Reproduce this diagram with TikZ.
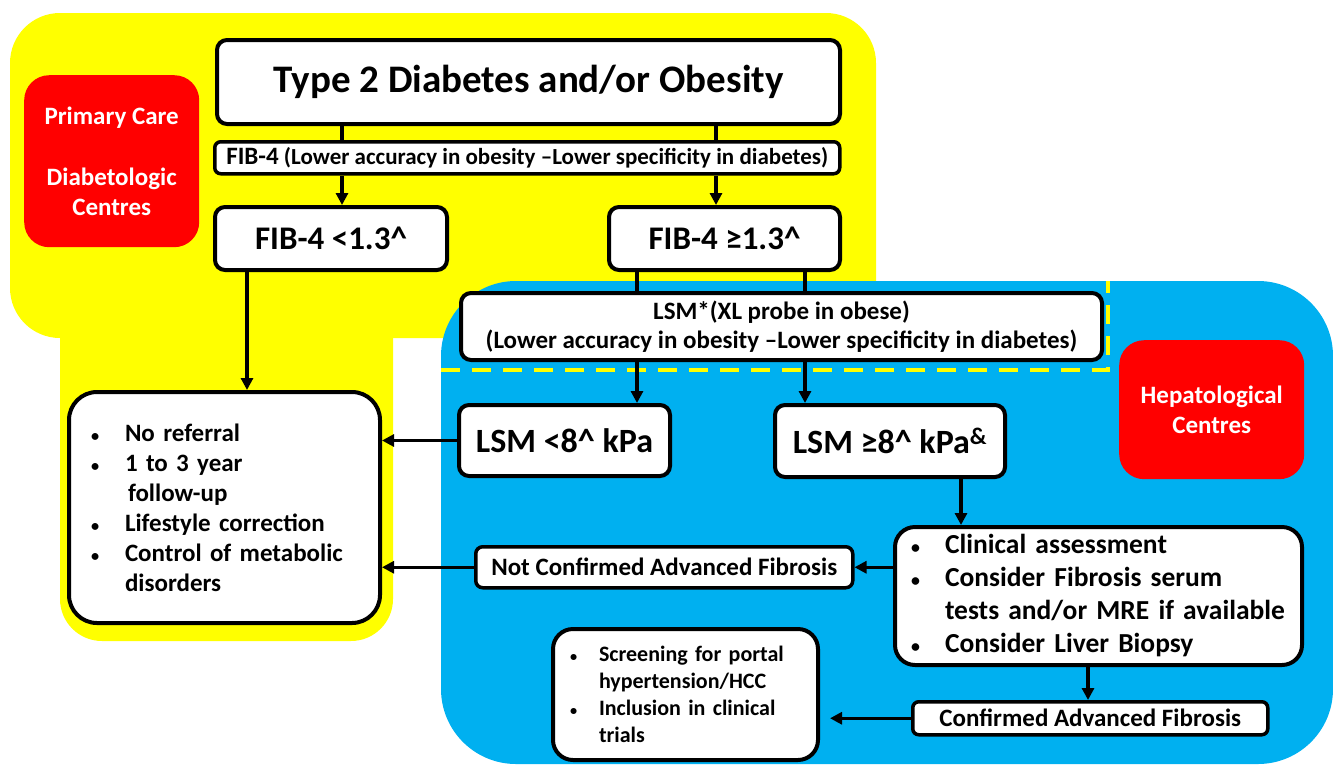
\documentclass[tikz,border=0pt]{standalone}
\usepackage{fontspec}
\setmainfont{Carlito}
\usetikzlibrary{arrows.meta}
\definecolor{yel}{RGB}{255,255,0}
\definecolor{sky}{RGB}{0,176,240}
\definecolor{redbox}{RGB}{255,0,0}
\newcommand\bulA{\makebox[34pt][l]{\scalebox{0.65}{\textbullet}}}
\newcommand\bulB{\makebox[29pt][l]{\scalebox{0.65}{\textbullet}}}
\newcommand\fsz[2]{\fontsize{#1}{#2}\selectfont}
\begin{document}
\begin{tikzpicture}[x=1pt,y=-1pt,
  box/.style={draw=black, line width=4pt, fill=white, rounded corners=10pt, inner sep=0pt, font=\bfseries, anchor=north west, align=center},
  redb/.style={fill=redbox, rounded corners=25pt, inner sep=0pt, text=white, font=\bfseries\fsz{25}{30}, anchor=north west, align=center},
  arr/.style={line width=3.3pt, -{Triangle[length=12pt,width=12pt]}},
  ln/.style={line width=3.3pt}]
\useasboundingbox (0,0) rectangle (1333,764);
% backgrounds
\fill[yel, rounded corners=42pt] (60,290) rectangle (393,641);
\fill[yel, rounded corners=50pt] (10,13) rectangle (876,338);
\fill[sky, rounded corners=75pt] (441,281) rectangle (1333,764);
\draw[yel, line width=4.5pt, dash pattern=on 19pt off 12pt] (441,370) -- (1108,370) -- (1108,281);
% region labels
\node[redb, minimum width=175pt, minimum height=172pt] (pc) at (24,75) {Primary Care\\[31pt]Diabetologic\\Centres};
\node[redb, minimum width=185pt, minimum height=139pt] (hc) at (1119,340) {Hepatological\\Centres};
% nodes
\node[box, minimum width=623pt, minimum height=84pt, font=\bfseries\fsz{39}{44}] (title) at (215,38) {Type 2 Diabetes and/or Obesity};
\node[box, line width=3.5pt, rounded corners=6pt, minimum width=625pt, minimum height=32pt] (fib) at (213,140) {{\fsz{25}{26}FIB-4}\fsz{23}{26}\ (Lower accuracy in obesity –Lower specificity in diabetes)};
\node[box, minimum width=232pt, minimum height=63pt, font=\bfseries\fsz{33}{36}] (fibL) at (213,205) {FIB-4 <1.3\textasciicircum};
\node[box, minimum width=231pt, minimum height=63pt, font=\bfseries\fsz{33}{36}] (fibR) at (607,205) {FIB-4 ≥1.3\textasciicircum};
\node[box, minimum width=641pt, minimum height=67pt, font=\bfseries\fsz{25}{29}] (lsm) at (459,291) {LSM*(XL probe in obese)\\(Lower accuracy in obesity –Lower specificity in diabetes)};
\node[box, minimum width=211pt, minimum height=71pt, font=\bfseries\fsz{34}{36}] (lsmL) at (457,403) {LSM <8\textasciicircum{} kPa};
\node[box, minimum width=230pt, minimum height=72pt, font=\bfseries\fsz{34}{36}] (lsmH) at (773,403) {LSM ≥8\textasciicircum{} kPa\textsuperscript{\&}};
\node[box, rounded corners=28pt, inner xsep=22pt, text width=267pt, minimum height=231pt, align=left, font=\bfseries\fsz{25}{30}] (list) at (67,390) {\bulA No referral\\\bulA 1 to 3 year\\\hspace*{37pt}follow-up\\\bulA Lifestyle correction\\\bulA Control of metabolic\\\hspace*{34pt}disorders};
\node[box, rounded corners=20pt, inner xsep=16pt, text width=375pt, minimum height=138pt, align=left, font=\bfseries\fsz{27.5}{33}] (clin) at (893,525) {\bulA Clinical assessment\\\bulA Consider Fibrosis serum\\\hspace*{34pt}tests and/or MRE if available\\\bulA Consider Liver Biopsy};
\node[box, line width=3.5pt, rounded corners=7pt, minimum width=377pt, minimum height=41pt, font=\bfseries\fsz{25}{28}] (notc) at (474,545) {Not Confirmed Advanced Fibrosis};
\node[box, rounded corners=20pt, inner xsep=17pt, text width=231pt, minimum height=131pt, align=left, font=\bfseries\fsz{22}{27}] (screen) at (551,627) {\bulB Screening for portal\\\hspace*{29pt}hypertension/HCC\\\bulB Inclusion in clinical\\\hspace*{29pt}trials};
\node[box, line width=3.5pt, rounded corners=6pt, minimum width=355pt, minimum height=33pt, font=\bfseries\fsz{25}{27}] (conf) at (911,700) {Confirmed Advanced Fibrosis};
% connector columns
\coordinate (xa) at (342,0);
\coordinate (xb) at (716,0);
\coordinate (xc) at (247,0);
\coordinate (xd) at (637,0);
\coordinate (xe) at (805,0);
\coordinate (xf) at (961,0);
\coordinate (xg) at (1088,0);
% connectors
\draw[ln] (title.south -| xa) -- (fib.north -| xa);
\draw[ln] (title.south -| xb) -- (fib.north -| xb);
\draw[arr] (fib.south -| xa) -- (fibL.north -| xa);
\draw[arr] (fib.south -| xb) -- (fibR.north -| xb);
\draw[arr] (fibL.south -| xc) -- (list.north -| xc);
\draw[ln] (fibR.south -| xd) -- (lsm.north -| xd);
\draw[ln] (fibR.south -| xe) -- (lsm.north -| xe);
\draw[arr] (lsm.south -| xd) -- (lsmL.north -| xd);
\draw[arr] (lsm.south -| xe) -- (lsmH.north -| xe);
\draw[arr] (lsmL.west) -- (list.east |- lsmL.west);
\draw[arr] (lsmH.south -| xf) -- (clin.north -| xf);
\draw[arr] (clin.west |- notc.east) -- (notc.east);
\draw[arr] (notc.west) -- (list.east |- notc.west);
\draw[arr] (clin.south -| xg) -- (conf.north -| xg);
\draw[arr] (conf.west) -- ([xshift=10pt]screen.east |- conf.west);
\end{tikzpicture}
\end{document}
